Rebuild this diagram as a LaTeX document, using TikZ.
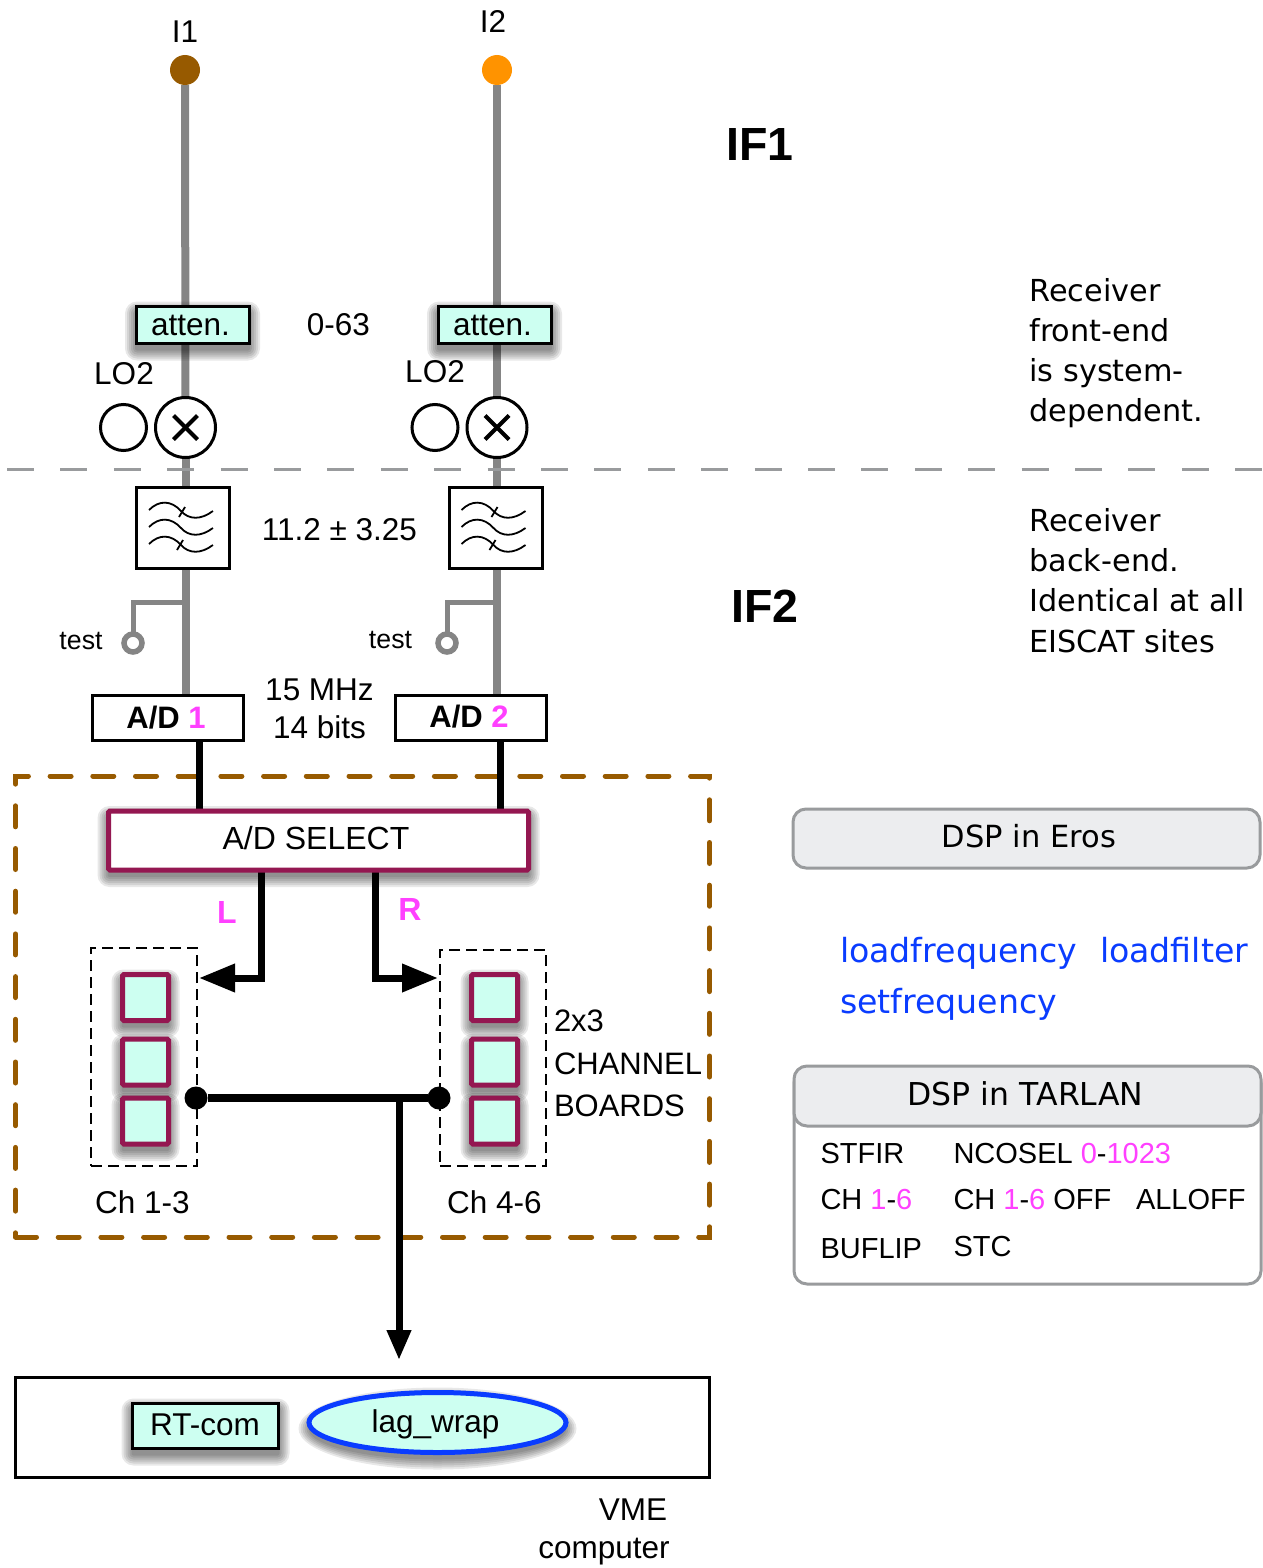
\documentclass[tikz,border=0pt]{standalone}
\usepackage{fontspec}
\setmainfont{Liberation Sans}
\newfontfamily\lucfont{DejaVu Sans}
\usetikzlibrary{arrows.meta,backgrounds,shapes.geometric}
\definecolor{aquaF}{HTML}{CDFFF1}
\definecolor{maroonS}{HTML}{941751}
\definecolor{magentaT}{HTML}{FF40FF}
\definecolor{blueT}{HTML}{0A3CFF}
\definecolor{orangeD}{HTML}{975A00}
\definecolor{grayL}{HTML}{858585}
\definecolor{grayP}{HTML}{999B9D}
\definecolor{grayH}{HTML}{ECEDEF}
\newcommand\fsz[2]{\fontsize{#1}{#2}\selectfont}
\newcommand\softbox[1]{%
  \foreach \e in {11,9,7,5,3,1}
    \fill[black,opacity=.09,rounded corners=\e pt+1pt]
      ([xshift=-\e pt,yshift=-\e pt-6pt]#1.south west) rectangle ([xshift=\e pt,yshift=\e pt-6pt]#1.north east);}
\newcommand\softell[3]{%
  \foreach \e in {11,9,7,5,3,1}
    \fill[black,opacity=.09] ([yshift=-6pt]#1.center) ellipse ({#2+\e} and {#3+\e});}
\tikzset{
  txt/.style={inner sep=0pt,outer sep=0pt,font=\fsz{31.5}{36}},
  smalltxt/.style={inner sep=0pt,outer sep=0pt,font=\fsz{26.7}{30}},
  tabletxt/.style={inner sep=0pt,outer sep=0pt,anchor=west,font=\fsz{29}{32}},
  luctxt/.style={inner sep=0pt,outer sep=0pt,anchor=west,align=left,font=\lucfont\fsz{30.3}{40.2}},
  bluetxt/.style={inner sep=0pt,outer sep=0pt,anchor=base west,text=blueT,font=\lucfont\fsz{33.2}{36}},
  headtxt/.style={inner sep=0pt,outer sep=0pt,font=\bfseries\fsz{46.5}{50}},
  markL/.style={inner sep=0pt,outer sep=0pt,text=magentaT,font=\bfseries\fsz{32}{36}},
  boardtxt/.style={inner sep=0pt,outer sep=0pt,anchor=west,font=\fsz{31}{36}},
  box/.style={rectangle,draw=black,line width=3pt,inner sep=0pt,outer sep=0pt},
  aqbox/.style={box,fill=aquaF},
  filterbox/.style={box,fill=white,minimum width=93pt,minimum height=81pt},
  adbox/.style={box,fill=white,minimum width=151pt,minimum height=45pt},
  adtxt/.style={inner sep=0pt,outer sep=0pt,font=\bfseries\fsz{31}{36}},
  chan/.style={rectangle,draw=maroonS,fill=aquaF,line width=5pt,rounded corners=1.5pt,inner sep=0pt,outer sep=0pt,minimum width=46pt,minimum height=46pt},
  chdash/.style={rectangle,draw=black,line width=2.5pt,dash pattern=on 11pt off 6pt,inner sep=0pt,outer sep=0pt,minimum width=106pt,minimum height=218pt},
  mixer/.style={circle,draw=black,fill=white,line width=3pt,minimum size=60pt,inner sep=0pt,outer sep=0pt},
  losrc/.style={circle,draw=black,fill=white,line width=3pt,minimum size=46pt,inner sep=0pt,outer sep=0pt},
  testpt/.style={circle,draw=grayL,fill=white,line width=5.5pt,minimum size=18pt,inner sep=0pt,outer sep=0pt},
  port/.style={circle,minimum size=30pt,inner sep=0pt,outer sep=0pt},
  junction/.style={circle,fill=black,minimum size=23pt,inner sep=0pt,outer sep=0pt},
  rfline/.style={draw=grayL,line width=8pt},
  testline/.style={draw=grayL,line width=5pt},
  busline/.style={draw=black,line width=7pt},
  busarrow/.style={busline,shorten >=2pt,-{Triangle[length=36pt,width=27pt]}},
  vmearrow/.style={busline,-{Triangle[length=30pt,width=23pt]}},
  panelhead/.style={rectangle,draw=grayP,fill=grayH,line width=3pt,rounded corners=13pt,inner sep=0pt,outer sep=0pt},
  panelbody/.style={rectangle,draw=grayP,fill=white,line width=3pt,rounded corners=13pt,inner sep=0pt,outer sep=0pt},
  waves/.pic={
    \foreach \d in {0,17,34}{
      \draw[line width=1.8pt] (-34,-18+\d) .. controls (-24,-28+\d) and (-12,-28+\d) .. (-2,-17+\d) .. controls (6,-8+\d) and (18,-8+\d) .. (30,-17+\d);}
    \draw[line width=1.8pt] (-4,-11) -- (2,-21);
    \draw[line width=1.8pt] (-6,22) -- (0,12);
  }
}
\begin{document}
\begin{tikzpicture}[x=1pt,y=-1pt]
\useasboundingbox (0,0) rectangle (1262,1568);
% ports
\node[port,fill=orangeD] (i1) at (185,70) {};
\node[port,fill={rgb,255:red,255;green,147;blue,0}] (i2) at (497,70) {};
\node[txt] (i1t) at (185,31.5) {I1};
\node[txt] (i2t) at (493,21.5) {I2};
\node[headtxt] (if1) at (760,145) {IF1};
\node[headtxt] (if2) at (765,606) {IF2};
% atten
\node[aqbox,minimum width=113pt,minimum height=37pt] (at1) at (192.5,325) {};
\node[aqbox,minimum width=113pt,minimum height=37pt] (at2) at (494.5,325) {};
\node[txt] (at1t) at (190.5,325.5) {atten.};
\node[txt] (at2t) at (492.5,325.5) {atten.};
\node[txt] (range) at (338.5,324.5) {0-63};
% mixers
\node[txt] (lo1t) at (124,374) {LO2};
\node[txt] (lo2t) at (435,372) {LO2};
\node[losrc] (lo1) at (123.5,427.5) {};
\node[losrc] (lo2) at (435,427.5) {};
\node[mixer] (m1) at (185.5,427.5) {};
\node[mixer] (m2) at (497,427.5) {};
\foreach \m in {m1,m2}{
  \draw[line width=4pt] ([xshift=-12pt,yshift=-12pt]\m.center) -- ([xshift=12pt,yshift=12pt]\m.center);
  \draw[line width=4pt] ([xshift=-12pt,yshift=12pt]\m.center) -- ([xshift=12pt,yshift=-12pt]\m.center);
}
% IF divider
\coordinate (divA) at (7,469);
\coordinate (divB) at (1262,469);
\draw[draw=grayP,line width=3pt,dash pattern=on 27pt off 26.4pt] (divA) -- (divB);
% filters
\node[filterbox] (f1) at (183,528) {};
\node[filterbox] (f2) at (495.5,528) {};
\pic at (f1.center) {waves};
\pic at (f2.center) {waves};
\node[txt] (band) at (339.5,529.5) {11.2 ± 3.25};
% test
\node[testpt] (tp1) at (133,643) {};
\node[testpt] (tp2) at (447,643) {};
\node[smalltxt] (t1t) at (81,641) {test};
\node[smalltxt] (t2t) at (390.5,640) {test};
\coordinate (tap1) at (185,602);
\coordinate (tap2) at (497,602);
% AD
\node[adbox] (ad1) at (168,718) {};
\node[adbox] (ad2) at (471,718) {};
\node[adtxt] (ad1t) at (166,718) {A/D \textcolor{magentaT}{1}};
\node[adtxt] (ad2t) at (469,717) {A/D \textcolor{magentaT}{2}};
\node[txt] (rate) at (319.5,690) {15 MHz};
\node[txt] (bits) at (319.5,727) {14 bits};
% select
\node[rectangle,draw=maroonS,fill=white,line width=5pt,rounded corners=1.5pt,inner sep=0pt,outer sep=0pt,minimum width=420pt,minimum height=59pt] (sel) at (318.5,840.5) {};
\node[txt,font=\fsz{32}{36}] (selt) at (316,838) {A/D SELECT};
\node[markL] (lmark) at (227,912) {L};
\node[markL] (rmark) at (410,909) {R};
% channel groups
\node[chdash] (g1) at (144,1057) {};
\node[chdash,minimum height=216pt] (g2) at (493,1058) {};
\node[chan] (c1) at (145.5,997.5) {};
\node[chan] (c2) at (145.5,1062) {};
\node[chan] (c3) at (145.5,1121) {};
\node[chan] (c4) at (494.5,997.5) {};
\node[chan] (c5) at (494.5,1062) {};
\node[chan] (c6) at (494.5,1121) {};
\node[txt] (ch13) at (142.5,1202) {Ch 1-3};
\node[txt] (ch46) at (494.5,1202) {Ch 4-6};
\node[boardtxt] (b1) at (554,1021) {2x3};
\node[boardtxt] (b2) at (554,1064) {CHANNEL};
\node[boardtxt] (b3) at (554,1106) {BOARDS};
\node[junction] (j1) at (196,1098) {};
\node[junction] (j2) at (439,1098) {};
\coordinate (bus) at (399,1098);
% VME
\node[box,minimum width=694pt,minimum height=100pt] (vme) at (362.5,1427.5) {};
\node[aqbox,minimum width=146pt,minimum height=45pt] (rt) at (205.5,1426) {};
\node[txt] (rtt) at (205,1424.5) {RT-com};
\node[ellipse,draw=blueT,fill=aquaF,line width=5pt,inner sep=0pt,outer sep=0pt,minimum width=257pt,minimum height=60pt] (lag) at (437.5,1422.5) {};
\node[txt] (lagt) at (435.5,1424) {lag\_wrap};
\node[txt] (vmet) at (633,1510) {VME};
\node[txt] (compt) at (604,1552) {computer};
\coordinate (vmetip) at (399,1360);
% notes
\node[luctxt] (n1) at (1029.5,353) {Receiver\\front-end\\is system-\\dependent.};
\node[luctxt] (n2) at (1029.5,580.5) {Receiver\\back-end.\\Identical at all\\EISCAT sites};
\node[panelhead,minimum width=467pt,minimum height=59pt] (eros) at (1026.5,838.5) {};
\node[inner sep=0pt,font=\lucfont\fsz{30.5}{36}] (erost) at (1029,836) {DSP in Eros};
\node[bluetxt] (bl1) at (840,962) {loadfrequency};
\node[bluetxt] (bl2) at (1100,962) {loadfilter};
\node[bluetxt] (bl3) at (840,1013) {setfrequency};
\node[panelbody,minimum width=467pt,minimum height=214pt] (tarbody) at (1027.5,1177) {};
\node[panelhead,minimum width=467pt,minimum height=60pt] (tarhead) at (1027.5,1096) {};
\node[inner sep=0pt,font=\lucfont\fsz{31.5}{36}] (tart) at (1025.5,1094) {DSP in TARLAN};
\node[tabletxt] (r1a) at (820.5,1154) {STFIR};
\node[tabletxt] (r1b) at (953.5,1154) {NCOSEL \textcolor{magentaT}{0}-\textcolor{magentaT}{1023}};
\node[tabletxt] (r2a) at (820.5,1200) {CH \textcolor{magentaT}{1}-\textcolor{magentaT}{6}};
\node[tabletxt] (r2b) at (953.5,1200) {CH \textcolor{magentaT}{1}-\textcolor{magentaT}{6} OFF};
\node[tabletxt] (r2c) at (1136,1200) {ALLOFF};
\node[tabletxt] (r3a) at (820.5,1249) {BUFLIP};
\node[tabletxt] (r3b) at (953.5,1247) {STC};
% frame, connectors and shadows below the nodes
\begin{scope}[on background layer]
  \node[rectangle,draw=orangeD,line width=5pt,line cap=round,dash pattern=on 21pt off 21.7pt,inner sep=0pt,minimum width=694pt,minimum height=461pt] (frame) at (362.5,1006.5) {};
  \draw[rfline] (i1) -- (m1);
  \draw[rfline] (m1.south) -- (m1.south |- ad1.north);
  \draw[rfline] (i2) -- (m2);
  \draw[rfline] (m2.south) -- (m2.south |- ad2.north);
  \draw[testline] (tap1) -- (tap1 -| tp1) -- (tp1.north);
  \draw[testline] (tap2) -- (tap2 -| tp2) -- (tp2.north);
  \draw[busline] (ad1.south -| 199,0) -- (sel.north -| 199,0);
  \draw[busline] (ad2.south -| 500,0) -- (sel.north -| 500,0);
  \draw[busarrow] (sel.south -| 261,0) |- (g1.east |- 0,978);
  \draw[busarrow] (sel.south -| 375.5,0) |- (g2.west |- 0,978);
  \draw[draw=black,line width=8pt] (j1) -- (j2);
  \draw[vmearrow] (bus) -- (vmetip);
  \softbox{at1}\softbox{at2}\softbox{sel}
  \softbox{c1}\softbox{c2}\softbox{c3}\softbox{c4}\softbox{c5}\softbox{c6}
  \softbox{rt}
  \softell{lag}{128}{30}
\end{scope}
\end{tikzpicture}
\end{document}
